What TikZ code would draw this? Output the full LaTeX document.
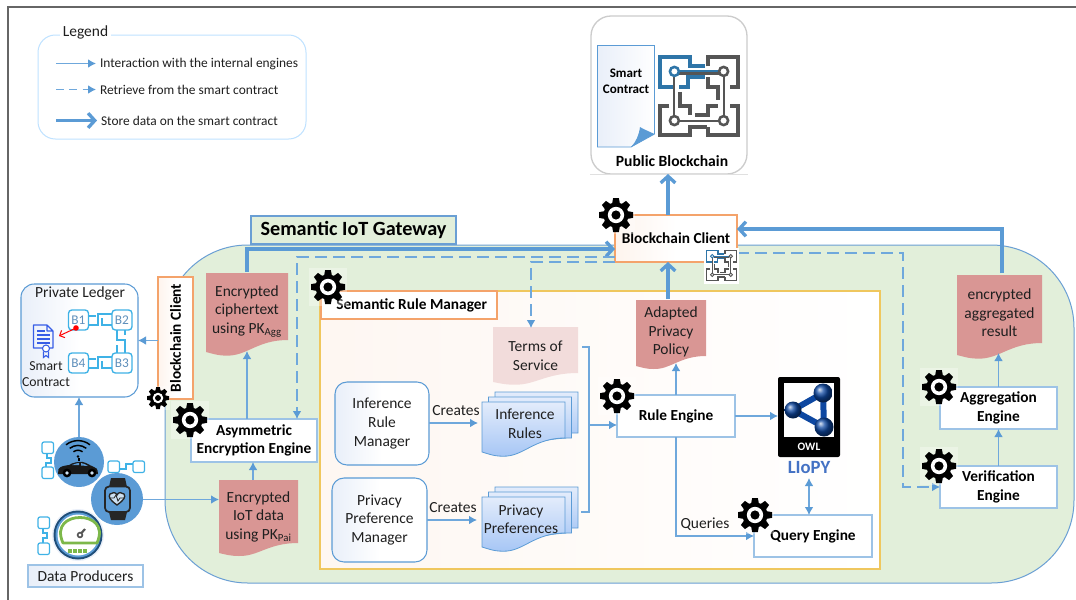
\documentclass[tikz,border=0pt]{standalone}
\usepackage{fontspec}
\setmainfont{Carlito}
\usetikzlibrary{arrows.meta,calc}
\definecolor{linkblue}{HTML}{6FA8DC}
\definecolor{thickblue}{HTML}{5B9BD5}
\definecolor{paleborder}{HTML}{9DC3E6}
\definecolor{gatefill}{HTML}{E2EFDA}
\definecolor{gateline}{HTML}{6A9FD4}
\definecolor{orangeline}{HTML}{F4A36B}
\definecolor{yellowline}{HTML}{EFC75E}
\definecolor{docred}{HTML}{D99694}
\definecolor{docpale}{HTML}{F2DCDB}
\definecolor{chaincyan}{HTML}{3FB2E6}
\definecolor{chipgray}{HTML}{555555}
\definecolor{chipblue}{HTML}{2E75A8}
\definecolor{owlblue}{HTML}{0D47A1}
\definecolor{liopy}{HTML}{4472C4}
\definecolor{paleface}{HTML}{E9EFF9}
\definecolor{navy}{HTML}{1F4E79}
\definecolor{gaugegreen}{HTML}{7DB84A}
\definecolor{stacktop}{HTML}{E3ECFB}
\definecolor{stackbot}{HTML}{A6C6F5}
\tikzset{
 x=0.75pt,y=-0.75pt,
 body/.style={font=\fontsize{11.6}{13.9}\selectfont,align=center,inner sep=0pt,outer sep=0pt,text=black!88},
 bodyb/.style={font=\fontsize{11.5}{13.9}\selectfont\bfseries,align=center,inner sep=0pt,outer sep=0pt,text=black},
 legendtext/.style={font=\fontsize{10.05}{12}\selectfont,inner sep=0pt,outer sep=0pt,text=black!88},
 boxbase/.style={rectangle,inner sep=0pt,outer sep=0pt,line width=.8pt},
 engine/.style={boxbase,bodyb,draw=paleborder,fill=white},
 clientbox/.style={boxbase,bodyb,draw=orangeline,left color=orangeline!12,right color=white,middle color=white},
 manager/.style={boxbase,body,draw=thickblue,rounded corners=9pt,left color=paleface,right color=white,middle color=white},
 thinarrow/.style={draw=linkblue,line width=.9pt,-{Latex[length=6pt,width=6.5pt,color=thickblue]}},
 plainlink/.style={draw=linkblue,line width=.9pt},
 dasharrow/.style={thinarrow,line width=.85pt,dash pattern=on 9pt off 4.5pt},
 thickarrow/.style={draw=thickblue,line width=2.5pt,-{Straight Barb[length=5pt,width=11pt,line width=2.5pt]}},
 redfill/.style={fill=docred},
 palefill/.style={fill=docpale},
 stackfill/.style={draw=thickblue,line width=.6pt,top color=stacktop,bottom color=stackbot},
}
\newcommand\boxnode[7]{\node[#6,minimum width={(#4-#2)*0.75pt},minimum height={(#5-#3)*0.75pt}] (#1) at ({(#2+#4)/2},{(#3+#5)/2}) {#7};}
\newcommand\docpath[6]{%
 \pgfmathsetmacro\dcw{#4-#2}\pgfmathsetmacro\dcd{#6-#5}%
 \path[#1] (#2,#3) -- (#4,#3) -- (#4,#5) .. controls ({#2+.62*\dcw},#5) and ({#2+.5*\dcw},{#6+.35*\dcd}) .. ({#2+.25*\dcw},{#6+.3*\dcd}) .. controls ({#2+.14*\dcw},{#6+.3*\dcd}) and ({#2+.07*\dcw},{#6+.12*\dcd}) .. (#2,#6) -- cycle;}
\newcommand\docnode[9][-1]{\docpath{#8}{#3}{#4}{#5}{#6}{#7}%
 \node[body,minimum width={(#5-#3)*0.75pt},minimum height={(#7-#4)*0.75pt}] (#2) at ({(#3+#5)/2},{(#4+#7)/2+#1}) {#9};}
\newcommand\gearat[4][.32]{%
 \begin{scope}[shift={(#2,#3)}]
 \fill[white,opacity=#1] (-#4*1.12,-#4*1.12) rectangle (#4*1.12,#4*1.12);
 \fill[black] (0,0) circle[radius=#4*.74];
 \foreach \ga in {0,45,...,315}{\fill[black,rotate=\ga] (-#4*.24,-#4*.6) -- (-#4*.17,-#4) -- (#4*.17,-#4) -- (#4*.24,-#4*.6) -- cycle;}
 \fill[white] (0,0) circle[radius=#4*.48];
 \fill[black] (0,0) circle[radius=#4*.27];
 \end{scope}}
\newcommand\chipat[4]{% x y size linewidth
 \begin{scope}[shift={(#1,#2)},x=#3*0.75pt,y=-#3*0.75pt,line width=#4,line join=miter]
 \draw[chipblue] (.57,.13)--(.39,.13)--(.39,.02)--(.02,.02)--(.02,.39)--(.18,.39) (.26,.39)--(.37,.39)--(.37,.27)--(.57,.27);
 \draw[chipgray] (.61,.14)--(.61,.02)--(.98,.02)--(.98,.39)--(.88,.39) (.61,.27)--(.61,.39)--(.73,.39)--(.73,.55);
 \draw[chipgray] (.14,.62)--(.02,.62)--(.02,.98)--(.39,.98)--(.39,.88)--(.6,.88) (.27,.45)--(.27,.62)--(.39,.62)--(.39,.73);
 \draw[chipgray] (.45,.73)--(.61,.73)--(.61,.62)--(.73,.62) (.88,.62)--(.98,.62)--(.98,.98)--(.61,.98)--(.61,.88);
 \draw[chipblue,line width=.5*#4] (.25,.2)--(.75,.2);
 \draw[chipgray,line width=.5*#4] (.25,.225)--(.75,.225) (.2,.25)--(.2,.75) (.8,.25)--(.8,.75) (.25,.8)--(.75,.8);
 \draw[chipblue,line width=.6*#4,fill=white] (.2,.2) circle[radius=.055];
 \draw[chipgray,line width=.6*#4,fill=white] (.8,.2) circle[radius=.055] (.2,.8) circle[radius=.055] (.8,.8) circle[radius=.055];
 \end{scope}}
\newcommand\minichain[4]{% x1 y1 x2 y2 of second
 \draw[chaincyan,line width=.9pt,rounded corners=1.5pt] (#1,#2) rectangle ++(11.5,11.5) (#3,#4) rectangle ++(11.5,11.5);}
\begin{document}
\begin{tikzpicture}
\useasboundingbox (0,0) rectangle (1076,600);
\fill[white] (0,0) rectangle (1076,600);
% frame
\draw[black!60,line width=1.5pt] (8,600) -- (8,6.5) -- (1076,6.5);
% gateway
\draw[fill=gatefill,draw=gateline,line width=.75pt,rounded corners=62pt] (165,245) rectangle (1074,583);
\boxnode{gatetab}{251}{216}{456}{244}{boxbase,draw=gateline,fill=gatefill,font=\fontsize{15.15}{18}\selectfont\bfseries}{Semantic IoT Gateway}
% legend
\draw[draw=blue!45!cyan!25!white,line width=.75pt,rounded corners=13pt] (38,35) rectangle (306,139);
\node[body,fill=white,inner sep=2pt] (legtitle) at (85.5,32) {Legend};
\node[legendtext,anchor=west] (lega) at (100,63.5) {Interaction with the internal engines};
\node[legendtext,anchor=west] (legb) at (100,89.5) {Retrieve from the smart contract};
\node[legendtext,anchor=west] (legc) at (101,120.5) {Store data on the smart contract};
\coordinate (lsa) at (56,63.5);\coordinate (lsb) at (56,89.5);\coordinate (lsc) at (56,120.5);
\draw[thinarrow,shorten >=3pt] (lsa) -- (lega.west);
\draw[dasharrow,shorten >=3pt,dash pattern=on 6pt off 4pt] (lsb) -- (legb.west);
\draw[thickarrow,shorten >=3pt] (lsc) -- (legc.west);
% public blockchain
\boxnode{pubchain}{591}{16}{747}{174}{boxbase,rounded corners=15pt,draw=black!20,line width=1pt,fill=white}{}
\draw[black!12,line width=.6pt] (590,174.5) -- (748,174.5);
\path[left color=paleface,right color=white,draw=thickblue,line width=.6pt] (597.5,45.5) -- (654.5,45.5) -- (654.5,134) -- (631,147) -- (597.5,147) -- cycle;
\fill[thickblue] (631,147) -- (654.5,134) .. controls (648,131) and (643,129) .. (640,127) .. controls (639,135) and (636,142) .. (631,147) -- cycle;
\node[bodyb,font=\fontsize{9.8}{12.2}\selectfont\bfseries] (pubsc) at (626,81.5) {Smart\\Contract};
\chipat{658}{55}{82}{3.2pt}
\node[bodyb,font=\fontsize{11.7}{13}\selectfont\bfseries] (pubtitle) at (672,161) {Public Blockchain};
% rule manager
\boxnode{srm}{320}{291}{880}{569}{boxbase,draw=yellowline,line width=1pt,left color=orangeline!9,right color=white}{}
\boxnode{srmlabel}{321}{291}{497}{319}{boxbase,bodyb,draw=orangeline,fill=white}{\hspace*{4pt}Semantic Rule Manager}
% clients
\boxnode{client}{615}{215}{737}{262}{clientbox}{Blockchain Client}
\boxnode{sideclient}{158}{277}{193}{399}{clientbox}{\rotatebox{90}{\fontsize{11.5}{13}\selectfont\bfseries Blockchain Client}}
% private ledger
\boxnode{ledger}{21}{284}{138}{397}{boxbase,draw=thickblue,rounded corners=10pt,left color=paleface,right color=white,middle color=white}{}
\node[body] (ledgertitle) at (80,293) {Private Ledger};
\foreach \nm/\bx/\by in {B1/68.5/310,B2/112/310,B3/112/353,B4/68.5/353}{
 \node[boxbase,draw=chaincyan,line width=1pt,rounded corners=2.5pt,minimum width=15pt,minimum height=15pt,font=\fontsize{10}{11}\selectfont,text=linkblue!85!black,fill=white] (\nm) at (\bx+10,\by+10) {\nm};}
\draw[chaincyan,line width=.9pt] (89,316)--(96,316) (89,325)--(98,325)--(98,314)--(112,314) (102,318)--(102,325)--(112,325);
\draw[chaincyan,line width=.9pt] (89,359)--(96,359) (89,368)--(98,368)--(98,357)--(112,357) (102,361)--(102,368)--(112,368);
\draw[chaincyan,line width=.9pt] (117,330)--(117,340)--(125,340)--(125,353) (125,330)--(125,335) (117,345)--(117,353);
% ledger contract icon
\draw[draw=thickblue!60!blue,line width=.9pt,line join=round] (33.5,325) -- (47,325) -- (53,331) -- (53,348) -- (33.5,348) -- cycle (47,325)--(47,331)--(53,331);
\draw[thickblue!60!blue,line width=.8pt] (37,331)--(45,331) (37,335)--(50,335) (37,339)--(50,339) (37,343)--(50,343);
\draw[thickblue!60!blue,line width=.8pt,fill=white] (46,348.5) circle[radius=3.5];
\draw[thickblue!60!blue,line width=.8pt] (43.5,351.5)--(43.5,357.5)--(46,355.5)--(48.5,357.5)--(48.5,351.5);
\node[body,font=\fontsize{10.3}{12}\selectfont] (ledgersc) at (46,374.5) {Smart\\Contract};
\fill[red] (76,328) circle[radius=2.8];
\coordinate (reddot) at (76,328);\coordinate (redtip) at (59,336);
\draw[red,line width=.75pt,-{Straight Barb[length=3pt,width=6pt]}] (reddot) -- (redtip);
% documents
\docnode{cipher}{206}{273}{288}{340}{352}{redfill}{Encrypted\\ciphertext\\using PK\textsubscript{Agg}}
\docnode[0]{iotdata}{219}{480}{298}{543}{553}{redfill}{Encrypted\\IoT data\\using PK\textsubscript{Pai}}
\docnode{adapted}{636}{300}{706}{356}{366}{redfill}{Adapted\\Privacy\\Policy}
\docnode[-2]{result}{957}{275}{1042}{343}{355}{redfill}{encrypted\\aggregated\\result}
\docnode[1]{terms}{493}{327}{578}{373}{382}{palefill}{Terms of\\Service}
% engines
\boxnode{asym}{191}{419}{317}{462}{engine}{Asymmetric\\Encryption Engine}
\boxnode{rule}{617}{395}{735}{437}{engine}{Rule Engine}
\boxnode{query}{754}{515}{872}{557}{engine}{Query Engine}
\boxnode{aggr}{940}{387}{1057}{429}{engine}{Aggregation\\Engine}
\boxnode{verif}{940}{466}{1057}{508}{engine}{Verification\\Engine}
% managers
\boxnode{infman}{335}{382}{429}{465}{manager}{Inference\\Rule\\Manager}
\boxnode{privman}{332}{478}{427}{562}{manager}{Privacy\\Preference\\Manager}
% stacks
\docpath{stackfill}{495}{392}{578}{433}{438}
\docpath{stackfill}{488.5}{397}{571.5}{438}{445}
\docpath{stackfill}{482}{402}{565}{438}{452}
\node[body,minimum width=62pt,minimum height=37pt] (infrules) at (525,424) {Inference\\Rules};
\docpath{stackfill}{495}{487}{578}{528}{533}
\docpath{stackfill}{488.5}{492}{571.5}{533}{540}
\docpath{stackfill}{482}{497}{565}{533}{547}
\node[body,minimum width=62pt,minimum height=37pt] (privpref) at (521,519) {Privacy\\Preferences};
% OWL
\node[boxbase,fill=black,rounded corners=1.5pt,minimum width=46.5pt,minimum height=60pt] (owl) at (809,417) {};
\fill[white] (784,383) rectangle (834,437);
\draw[owlblue,line width=4.5pt,fill=white,line join=round] (793,410) -- (823,393) -- (824,427) -- cycle;
\shade[ball color=owlblue] (793,410) circle[radius=8.5];
\shade[ball color=owlblue] (823,393) circle[radius=9.5];
\shade[ball color=owlblue] (824,427) circle[radius=9.5];
\node[font=\fontsize{8.5}{10}\selectfont\bfseries,text=white,inner sep=0pt] (owltext) at (809,447) {OWL};
\node[font=\fontsize{14}{16}\selectfont\bfseries,text=liopy,inner sep=0pt] (liopy) at (809,468) {LIoPY};
% labels
\node[body] (crea) at (456,411) {Creates};
\node[body] (creb) at (453,508) {Creates};
\node[body] (quer) at (705,524) {Queries};
% data producers
\boxnode{producers}{28}{565}{143}{587}{boxbase,body,draw=paleborder,line width=1pt,left color=paleface,right color=white}{Data Producers}
\minichain{42}{442}{42}{467}
\draw[chaincyan,line width=.9pt] (47,453.5)--(47,458)--(51,458)--(51,463)--(46,463)--(46,467);
\minichain{108}{461}{133}{461}
\draw[chaincyan,line width=.9pt] (119.5,469)--(126,469)--(126,464)--(133,464);
\minichain{38}{517}{38}{543}
\draw[chaincyan,line width=.9pt] (43,528.5)--(43,533)--(47,533)--(47,538)--(43,538)--(43,543);
% car
\fill[thickblue] (79,462) circle[radius=25];
\fill[black!90] (58,474) -- (58.5,469) .. controls (60,466) and (66,465.5) .. (69,465) .. controls (73,462.5) and (78,461.5) .. (83,462) .. controls (87,463) and (90,465.5) .. (93,466.5) .. controls (96,467) and (98,469) .. (98,474) -- cycle;
\fill[thickblue] (72,465) .. controls (75,463.5) and (78,463) .. (79,463) -- (79,465) -- cycle (81,463) .. controls (84,463.5) and (86,464.5) .. (88,466) -- (81,465.5) -- cycle;
\foreach \wx in {67,92}{\fill[black] (\wx,473) circle[radius=4.4];\fill[thickblue!30!white] (\wx,473) circle[radius=1.8];}
\draw[black,line width=1.1pt] (79,461)--(79,458);
\fill[black] (78,456.5) circle[radius=1.4];
\foreach \rr in {6,11,16}{\draw[black,line width=1.1pt] ({78-.75*\rr},{456-.7*\rr}) .. controls ({78-.3*\rr},{456-1.05*\rr}) and ({78+.3*\rr},{456-1.05*\rr}) .. ({78+.75*\rr},{456-.7*\rr});}
% watch
\fill[thickblue] (117,499) circle[radius=26];
\fill[black!85] (111,478) -- (125,478) -- (127,487) -- (109,487) -- cycle (111,520) -- (125,520) -- (127,512) -- (109,512) -- cycle;
\draw[black!85,line width=1.3pt,fill=thickblue,rounded corners=3pt] (105,486.5) rectangle (130,512);
\draw[black!85,line width=1pt,fill=thickblue!30!white] (117,505) .. controls (110,500) and (108,497) .. (110,494) .. controls (112,492) and (116,492) .. (117,495) .. controls (118,492) and (122,492) .. (124,494) .. controls (126,497) and (124,500) .. (117,505) -- cycle;
\draw[black!85,line width=.6pt] (110,498)--(114,498)--(116,495)--(118,501)--(120,498)--(124,498);
% gauge
\fill[paleface] (78,535) circle[radius=26];
\fill[navy] (78,535) circle[radius=24.5];
\fill[thickblue] (78,535) circle[radius=22.5];
\fill[white] (78,535) circle[radius=20.5];
\draw[gaugegreen,line width=2.1pt,line join=round] (63,543) .. controls (55,525) and (68,517.5) .. (80,517.5) .. controls (92,517.5) and (105,525) .. (97,543) -- cycle;
\draw[chipgray,line width=1.2pt,fill=white] (80,535) circle[radius=2.4];
\draw[chipgray,line width=1.6pt] (81.5,533) -- (85,529);
\foreach \gx in {70,75,80,85}{\fill[gaugegreen] (\gx-1.7,549) rectangle (\gx+1.7,552.5);}
% connectors
\coordinate (cx) at (668,200);
\coordinate (rx) at (1002,229);
\coordinate (lx) at (247,249);
\coordinate (dA) at (297,257);
\coordinate (dB) at (531,262);
\coordinate (dC) at (903,253);
\coordinate (tj) at (582,347);
\coordinate (tv) at (589,425);
\coordinate (pe) at (581,512);
\coordinate (wx) at (143,499.5);
\coordinate (ly) at (79,437);
\coordinate (ry) at (676,437);
\coordinate (ix) at (253,470);
\coordinate (ia) at (809,478);
\coordinate (ca) at (478,423);
\coordinate (cb) at (477,520);
\draw[thickarrow] (client.north -| cx) -- (pubchain.south -| cx);
\draw[thickarrow] (adapted.north -| cx) -- (client.south -| cx);
\draw[thickarrow] (result.north -| rx) |- (client.east |- rx);
\draw[thickarrow] (cipher.north -| lx) |- (client.west |- lx);
\draw[dasharrow] (client.west |- dA) -- (dA) -- (asym.north -| dA);
\draw[dasharrow] (client.south west) -- (dB) -- (terms.north -| dB);
\draw[dasharrow] (client.east |- dC) -- (dC) |- (verif.west);
\draw[plainlink] (tj) -| (pe -| tv) -- (pe);
\draw[thinarrow] (tv) -- (rule.west |- tv);
\draw[thinarrow] (infman.east |- ca) -- (ca);
\draw[thinarrow] (privman.east |- cb) -- (cb);
\draw[thinarrow] (rule.north) -- ++(0,-32);
\draw[thinarrow] (rule.east) -- (owl.west |- rule.east);
\draw[thinarrow] (ry) |- (query.west);
\draw[thinarrow,{Latex[length=6pt,width=6.5pt,color=thickblue]}-{Latex[length=6pt,width=6.5pt,color=thickblue]}] (ia) -- (ia |- query.north);
\draw[thinarrow] (asym.north -| lx) -- (cipher.south -| lx);
\draw[thinarrow] (iotdata.north -| ix) -- (asym.south -| ix);
\draw[thinarrow] (wx) -- (iotdata.west |- wx);
\draw[thinarrow] (sideclient.west |- ledger.east) -- (ledger.east);
\draw[thinarrow] (ly) -- (ledger.south -| ly);
\draw[thinarrow] (verif.north) -- (aggr.south);
\draw[thinarrow] (aggr.north) -- (result.south -| aggr.north);
% gears and small chip
\gearat{616}{215}{17}
\gearat{328}{287}{17}
\gearat{617}{396}{17}
\gearat{755}{515}{17}
\gearat{939}{387}{17}
\gearat{939}{466}{17}
\gearat{190}{420}{17}
\gearat{158}{398}{11}
\fill[white] (704,248) rectangle (739,284);
\chipat{706}{250}{31}{1.2pt}
\end{tikzpicture}
\end{document}
